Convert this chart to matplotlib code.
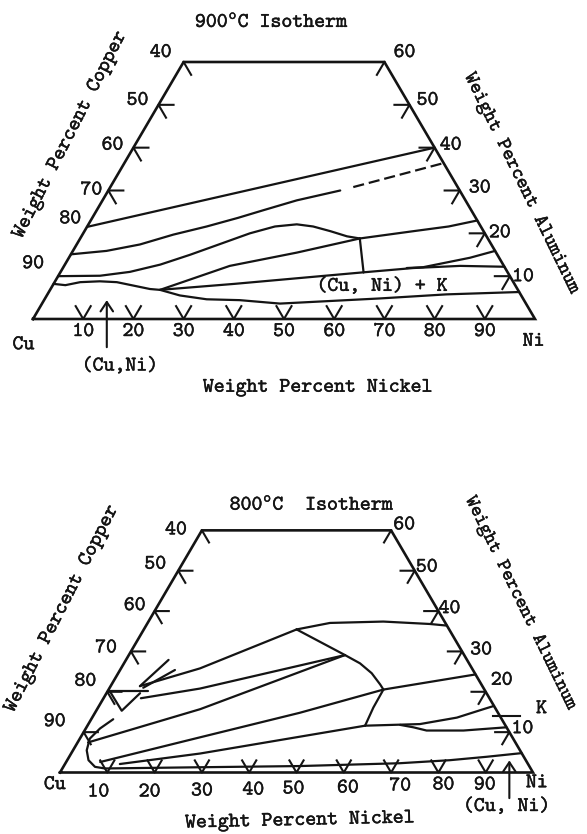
import numpy as np
import matplotlib
matplotlib.use("Agg")
import matplotlib.pyplot as plt
import matplotlib.patheffects as pe

plt.rcParams['font.family'] = ['cmtt10', 'DejaVu Sans Mono']
plt.rcParams['mathtext.fontset'] = 'cm'
plt.rcParams['axes.unicode_minus'] = False

INK = '#141414'
FS = 15
R3 = np.sqrt(3) / 2

# edge ticks (wt%)
ni_ticks = [10, 20, 30, 40, 50, 60, 70, 80, 90]
cu_labels = [40, 50, 60, 70, 80, 90]
al_labels = [60, 50, 40, 30, 20, 10]
top_cu_ticks = [50, 60, 70]
bot_cu_ticks = [50, 60, 70, 80, 90]
al_ticks = [50, 40, 30, 20, 10]

t9_a = [(0, 21.5), (60, 40)]
t9_b = [(0, 15.1), (6.7, 15.9), (12.6, 17.4), (18.1, 19.7), (23.8, 21.6),
        (29, 23.6), (33.2, 25.4), (38.7, 27.7), (46.2, 30.0)]
t9_b_dash = [(48.4, 30.8), (63.6, 36.4)]
t9_c = [(0, 10), (8.3, 10.1), (13.8, 11.0), (19.0, 12.7), (23.8, 15.0),
        (28.5, 17.5), (33.2, 20.0), (37.4, 21.6), (41.5, 22.1), (45.0, 21.6),
        (49.0, 20.5), (52.9, 19.3), (55.7, 18.8)]
t9_j1_edge = [(55.7, 18.8), (65.5, 20.5), (72, 21.6), (77, 23)]
t9_j1_j2 = [(55.7, 18.8), (60.4, 10.9)]
t9_j2_edge = [(60.4, 10.9), (69.8, 11.9), (78.9, 12.4), (87.8, 12.2)]
t9_k_upper = [(68.5, 11.9), (71.7, 12.1), (75.8, 13.2), (79.9, 14.3), (84.1, 15.9)]
t9_d = [(0, 8.2), (2.5, 7.9), (5.1, 8.6), (8.9, 8.8), (12.4, 8.6), (16.1, 7.8),
        (19.8, 7.0), (21.9, 6.8)]
t9_j3_j1 = [(21.9, 6.8), (33, 12.4), (44.8, 15.5), (55.7, 18.8)]
t9_j3_j2 = [(21.9, 6.8), (36, 8.2), (60.4, 10.9)]
t9_low = [(21.9, 6.8), (26.5, 5.5), (32.3, 4.6), (39.0, 4.4), (47.4, 3.6),
          (66.7, 4.8), (79.5, 5.75), (93.7, 6.3)]

# ---- 800 C isotherm ----
t8_p_edge = [(32.3, 35.45), (38.55, 37.06), (49.65, 37.4), (59.8, 36.8), (63.6, 36.4)]
t8_p_left = [(32.3, 35.45), (16.7, 25.8), (6.2, 21.4)]
t8_fan1 = [(6.2, 21.4), (9.0, 27.9)]
t8_fan2 = [(7.1, 21.0), (11.6, 25.4)]
t8_bar = [(0, 20.1), (8.5, 20.1)]
t8_tri = [(0.5, 20.1), (5.4, 15.3), (7.1, 19.65)]
t8_pq = [(32.3, 35.45), (45.7, 29.1)]
t8_q_upper = [(45.7, 29.1), (19.2, 20.8), (7.9, 18.4)]
t8_q_lower = [(45.7, 29.1), (21.8, 15.7), (2.2, 7.45)]
t8_qr = [(45.7, 29.1), (49.9, 27.05), (53.6, 24.6), (56.8, 21.8), (58.1, 20.55)]
t8_r_edge = [(58.1, 20.55), (75.7, 24.3)]
t8_rs = [(58.1, 20.55), (58.2, 16.1), (58.7, 11.6)]
t8_r_left = [(58.1, 20.55), (43.3, 14.8), (25.2, 8.7), (7.2, 2.6)]
t8_s_left = [(58.7, 11.6), (27.25, 4.7), (11.6, 2.1)]
t8_s_upper = [(58.7, 11.6), (70.1, 12.0), (77.1, 13.6), (81.7, 15.7), (83.5, 16.5)]
t8_s_lower = [(66.0, 11.8), (69.1, 11.2), (72.3, 10.4), (80.1, 10.4), (88.8, 11.2)]
t8_hook = [(4.65, 13.2), (3.0, 10.9), (2.1, 8.4), (2.9, 5.5), (4.5, 3.05), (6.7, 1.4),
           (9.0, 1.0), (28.9, 1.3), (50.0, 1.6), (70.7, 2.3), (80.9, 3.05),
           (88.3, 3.9), (95.2, 4.8)]


def xy(pts):
    p = np.asarray(pts, float)
    return p[:, 0] + p[:, 1] / 2, p[:, 1] * R3


def pt(ni, al):
    return ni + al / 2, al * R3


def frame(ax, cu_ticks, L=3):
    outline = [(0, 0), (100, 0), (40, 60), (0, 60), (0, 0)]
    ax.plot(*xy(outline), color=INK, lw=1.9, solid_joinstyle='miter')
    marks = [[(n - L, L), (n, 0), (n, L)] for n in ni_ticks]
    marks += [[(L, 100 - c), (0, 100 - c), (L, 100 - c - L)] for c in cu_ticks]
    marks += [[(100 - a - L, a), (100 - a, a), (100 - a, a - L)] for a in al_ticks]
    marks += [[(0, 60), (L, 60 - L)], [(40, 60), (40, 60 - L)]]
    for m in marks:
        ax.plot(*xy(m), color=INK, lw=1.5)


def labels(ax, cu_off, al_off, ni_off):
    k = 0.72  # px -> pt at 100 dpi
    for v, (dx, dy) in zip(cu_labels, cu_off):
        ax.annotate(str(v), pt(0, 100 - v), xytext=(dx * k, dy * k),
                    textcoords='offset points', ha='center', va='center', fontsize=FS)
    for v, (dx, dy) in zip(al_labels, al_off):
        ax.annotate(str(v), pt(100 - v, v), xytext=(dx * k, dy * k),
                    textcoords='offset points', ha='center', va='center', fontsize=FS)
    for v, (dx, dy) in zip(ni_ticks, ni_off):
        ax.annotate(str(v), pt(v, 0), xytext=(dx * k, dy * k),
                    textcoords='offset points', ha='center', va='center', fontsize=FS)


def curves(ax, lines, **kw):
    for c in lines:
        ax.plot(*xy(c), color=INK, lw=1.6, solid_capstyle='round', **kw)


fig = plt.figure(figsize=(5.87, 8.34), dpi=100)
ax1 = fig.add_axes([0, 417 / 834, 1, 417 / 834])
ax2 = fig.add_axes([0, 0, 1, 417 / 834])
ax1.set_xlim(-33 / 5.02, (587 - 33) / 5.02)
ax1.set_ylim((319 - 417) / 4.946, 319 / 4.946)
ax2.set_xlim(-60 / 4.73, (587 - 60) / 4.73)
ax2.set_ylim((772.5 - 834) / 4.66, (772.5 - 417) / 4.66)
for ax in (ax1, ax2):
    ax.axis('off')

# ---------------- top: 900 C ----------------
frame(ax1, top_cu_ticks)
labels(ax1,
       [(-23, 9), (-21, 4), (-21, 2), (-17, 0), (-13, 14), (-25, 12)],
       [(20, 9), (18, 4), (16, 2), (20, 2), (15, 0), (13, -1)],
       [(0, -13)] * 9)
curves(ax1, [t9_a, t9_b, t9_c, t9_j1_edge, t9_j1_j2, t9_j2_edge, t9_k_upper,
             t9_d, t9_j3_j1, t9_j3_j2, t9_low])
ax1.plot(*xy(t9_b_dash), color=INK, lw=1.6, linestyle=(0, (5, 2.2)))

ax1.text(47.6, 60.0, r'900$^{\mathtt{o}}$C Isotherm', fontsize=FS, ha='center', va='center')
ax1.text(7.4, 37.2, 'Weight Percent Copper', fontsize=FS, rotation=63,
         ha='center', va='center', rotation_mode='anchor')
ax1.text(97.3, 27.5, 'Weight Percent Aluminum', fontsize=FS - 0.5, rotation=-64,
         ha='center', va='center', rotation_mode='anchor')
ax1.text(56.7, -13.9, 'Weight Percent Nickel', fontsize=FS, ha='center', va='center')
ax1.text(-1.9, -5.3, 'Cu', fontsize=FS, ha='center', va='center')
ax1.text(99.7, -4.6, 'Ni', fontsize=FS, ha='center', va='center')
ax1.text(69.5, 6.5, '(Cu, Ni) + K', fontsize=FS, ha='center', va='center')
tip = pt(12.5, 4.4)
ax1.annotate('', xy=tip, xytext=(tip[0], -5.7),
             arrowprops=dict(arrowstyle='->,head_length=0.45,head_width=0.3',
                             color=INK, lw=1.5, shrinkA=0, shrinkB=0), fontsize=FS)
ax1.text(17.3, -9.6, '(Cu,Ni)', fontsize=FS, ha='center', va='center')

# ---------------- bottom: 800 C ----------------
frame(ax2, bot_cu_ticks)
labels(ax2,
       [(-26, 0), (-23, 6), (-20, 5), (-25, 3), (-22, 10), (-29, 10)],
       [(13, 5), (12, 3), (11, 2), (19, 1), (16, 11), (13, 3)],
       [(-9, -20), (-5, -20), (0, -19), (4, -18), (-3, -17), (4, -16),
        (9, -14), (5, -13), (-1, -13)])
curves(ax2, [t8_p_edge, t8_p_left, t8_fan1, t8_fan2, t8_bar, t8_tri, t8_pq,
             t8_q_upper, t8_q_lower, t8_qr, t8_r_edge, t8_rs, t8_r_left,
             t8_s_left, t8_s_upper, t8_s_lower, t8_hook])

ax2.text(53.3, 57.4, r'800$^{\mathtt{o}}$C  Isotherm', fontsize=FS, ha='center', va='center')
ax2.text(0.4, 35.1, 'Weight Percent Copper', fontsize=FS, rotation=63,
         ha='center', va='center', rotation_mode='anchor')
ax2.text(97.4, 36.4, 'Weight Percent Aluminum', fontsize=FS - 1, rotation=-64,
         ha='center', va='center', rotation_mode='anchor')
ax2.text(50.7, -10.4, 'Weight Percent Nickel', fontsize=FS, rotation=1.3,
         ha='center', va='center', rotation_mode='anchor')
ax2.text(-1.1, -2.7, 'Cu', fontsize=FS, ha='center', va='center')
ax2.text(100.8, -2.3, 'Ni', fontsize=FS, ha='center', va='center')
kx, ky = pt(84.5, 14.0)
ax2.plot([kx, kx + 5.7], [ky, ky], color=INK, lw=1.5)
ax2.text(101.8, 13.6, 'K', fontsize=FS, ha='center', va='center')
tip = pt(93.5, 3.0)
ax2.annotate('', xy=tip, xytext=(tip[0], -5.5),
             arrowprops=dict(arrowstyle='->,head_length=0.45,head_width=0.3',
                             color=INK, lw=1.5, shrinkA=0, shrinkB=0), fontsize=FS)
ax2.text(94.4, -7.4, '(Cu, Ni)', fontsize=FS, ha='center', va='center')

# scanned typewriter text is a little heavier than cmtt10
for ax in (ax1, ax2):
    for t in ax.texts:
        t.set_path_effects([pe.withStroke(linewidth=0.3, foreground=INK)])
        t.set_color(INK)

fig.savefig('out.png', dpi=100, facecolor='white')
